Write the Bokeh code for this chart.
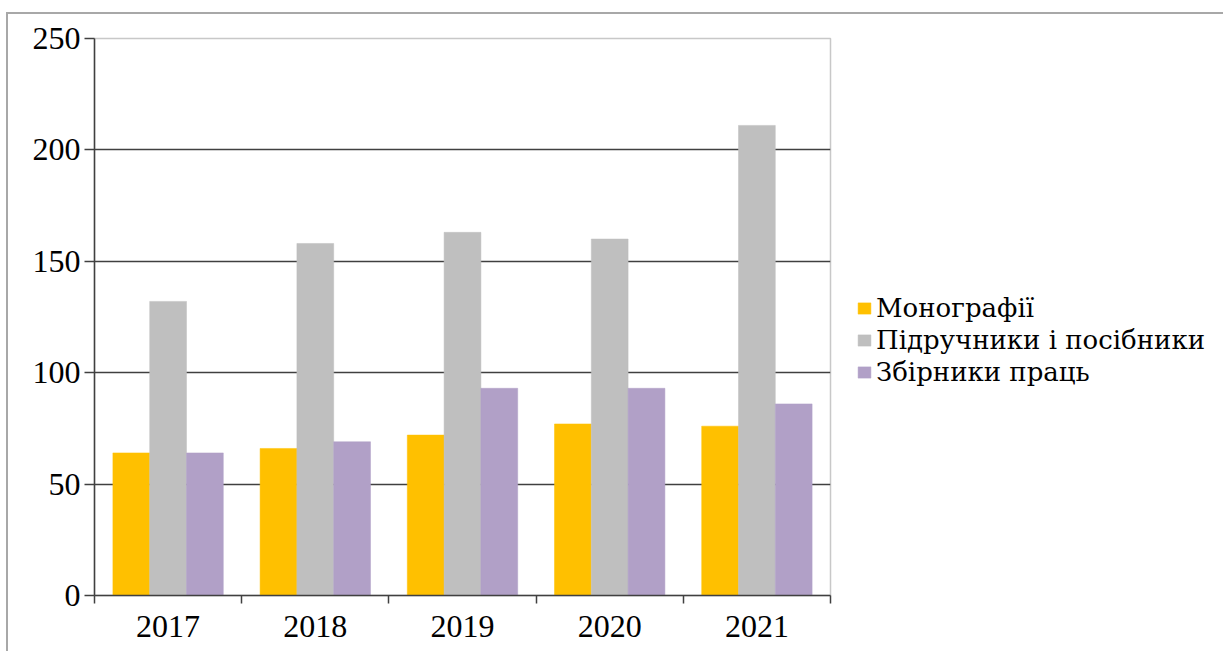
from bokeh.plotting import figure
from bokeh.models import FixedTicker, Legend, LegendItem, Range1d, ColumnDataSource
from bokeh.embed import file_html
from bokeh.resources import INLINE

years = ["2017", "2018", "2019", "2020", "2021"]
series_names = ["Монографії", "Підручники і посібники", "Збірники праць"]
monographs = [64, 66, 72, 77, 76]
textbooks = [132, 158, 163, 160, 211]
collections = [64, 69, 93, 93, 86]
colors = ["#FFC000", "#BFBFBF", "#B1A0C7"]
y_ticks = [0, 50, 100, 150, 200, 250]

FONT = "Liberation Serif"
LEGEND_FONT = "DejaVu Serif"

p = figure(width=1200, height=636, frame_width=736, frame_height=557,
           min_border_left=86, min_border_top=24, min_border_right=370, min_border_bottom=56,
           x_range=Range1d(0, len(years)), y_range=Range1d(0, 250),
           output_backend="svg", toolbar_location=None)
p.styles = {"margin-top": "12px", "margin-left": "6px",
            "border-left": "2px solid #a8a8a8", "border-top": "2px solid #a8a8a8"}

offsets = [-0.25, 0.0, 0.25]
items = []
for k, (vals, col, name) in enumerate(zip([monographs, textbooks, collections], colors, series_names)):
    xs = [i + 0.5 + offsets[k] for i in range(len(years))]
    src = ColumnDataSource(dict(x=xs, top=vals))
    r = p.vbar(x="x", top="top", width=0.25, bottom=0, source=src,
               fill_color=col, line_color=col, line_width=0.5)
    items.append(LegendItem(label=name, renderers=[r]))

legend = Legend(items=items, location=(26, 208), orientation="vertical",
                label_text_font=LEGEND_FONT, label_text_font_size="26px",
                label_text_color="#000000",
                glyph_width=16, glyph_height=14, label_standoff=4, spacing=2,
                padding=0, margin=0, border_line_color=None, background_fill_alpha=0,
                label_height=30)
p.add_layout(legend, "right")

# axes
p.xaxis.ticker = FixedTicker(ticks=[i + 0.5 for i in range(len(years))],
                             minor_ticks=list(range(len(years) + 1)))
p.xaxis.major_label_overrides = {i + 0.5: y for i, y in enumerate(years)}
p.xaxis.major_tick_out = 0
p.xaxis.major_tick_in = 0
p.xaxis.minor_tick_out = 8
p.xaxis.minor_tick_in = 0
p.xaxis.major_label_standoff = 12

p.yaxis.ticker = FixedTicker(ticks=y_ticks, minor_ticks=[])
p.yaxis.major_tick_out = 10
p.yaxis.major_tick_in = 0
p.yaxis.minor_tick_out = 0
p.yaxis.major_label_standoff = 4

for ax in (p.xaxis[0], p.yaxis[0]):
    ax.axis_line_color = "#404040"
    ax.axis_line_width = 1.5
    ax.major_tick_line_color = "#404040"
    ax.major_tick_line_width = 1.5
    ax.minor_tick_line_color = "#404040"
    ax.minor_tick_line_width = 1.5
    ax.major_label_text_font = FONT
    ax.major_label_text_font_size = "32px"
    ax.major_label_text_color = "#000000"

p.xgrid.grid_line_color = None
p.ygrid.ticker = FixedTicker(ticks=y_ticks)
p.ygrid.grid_line_color = "#404040"
p.ygrid.grid_line_width = 1.5
p.outline_line_color = "#c8c8c8"
p.outline_line_width = 1.5
p.background_fill_color = "white"
p.border_fill_color = "white"

open("out.html", "w").write(file_html(p, INLINE))
